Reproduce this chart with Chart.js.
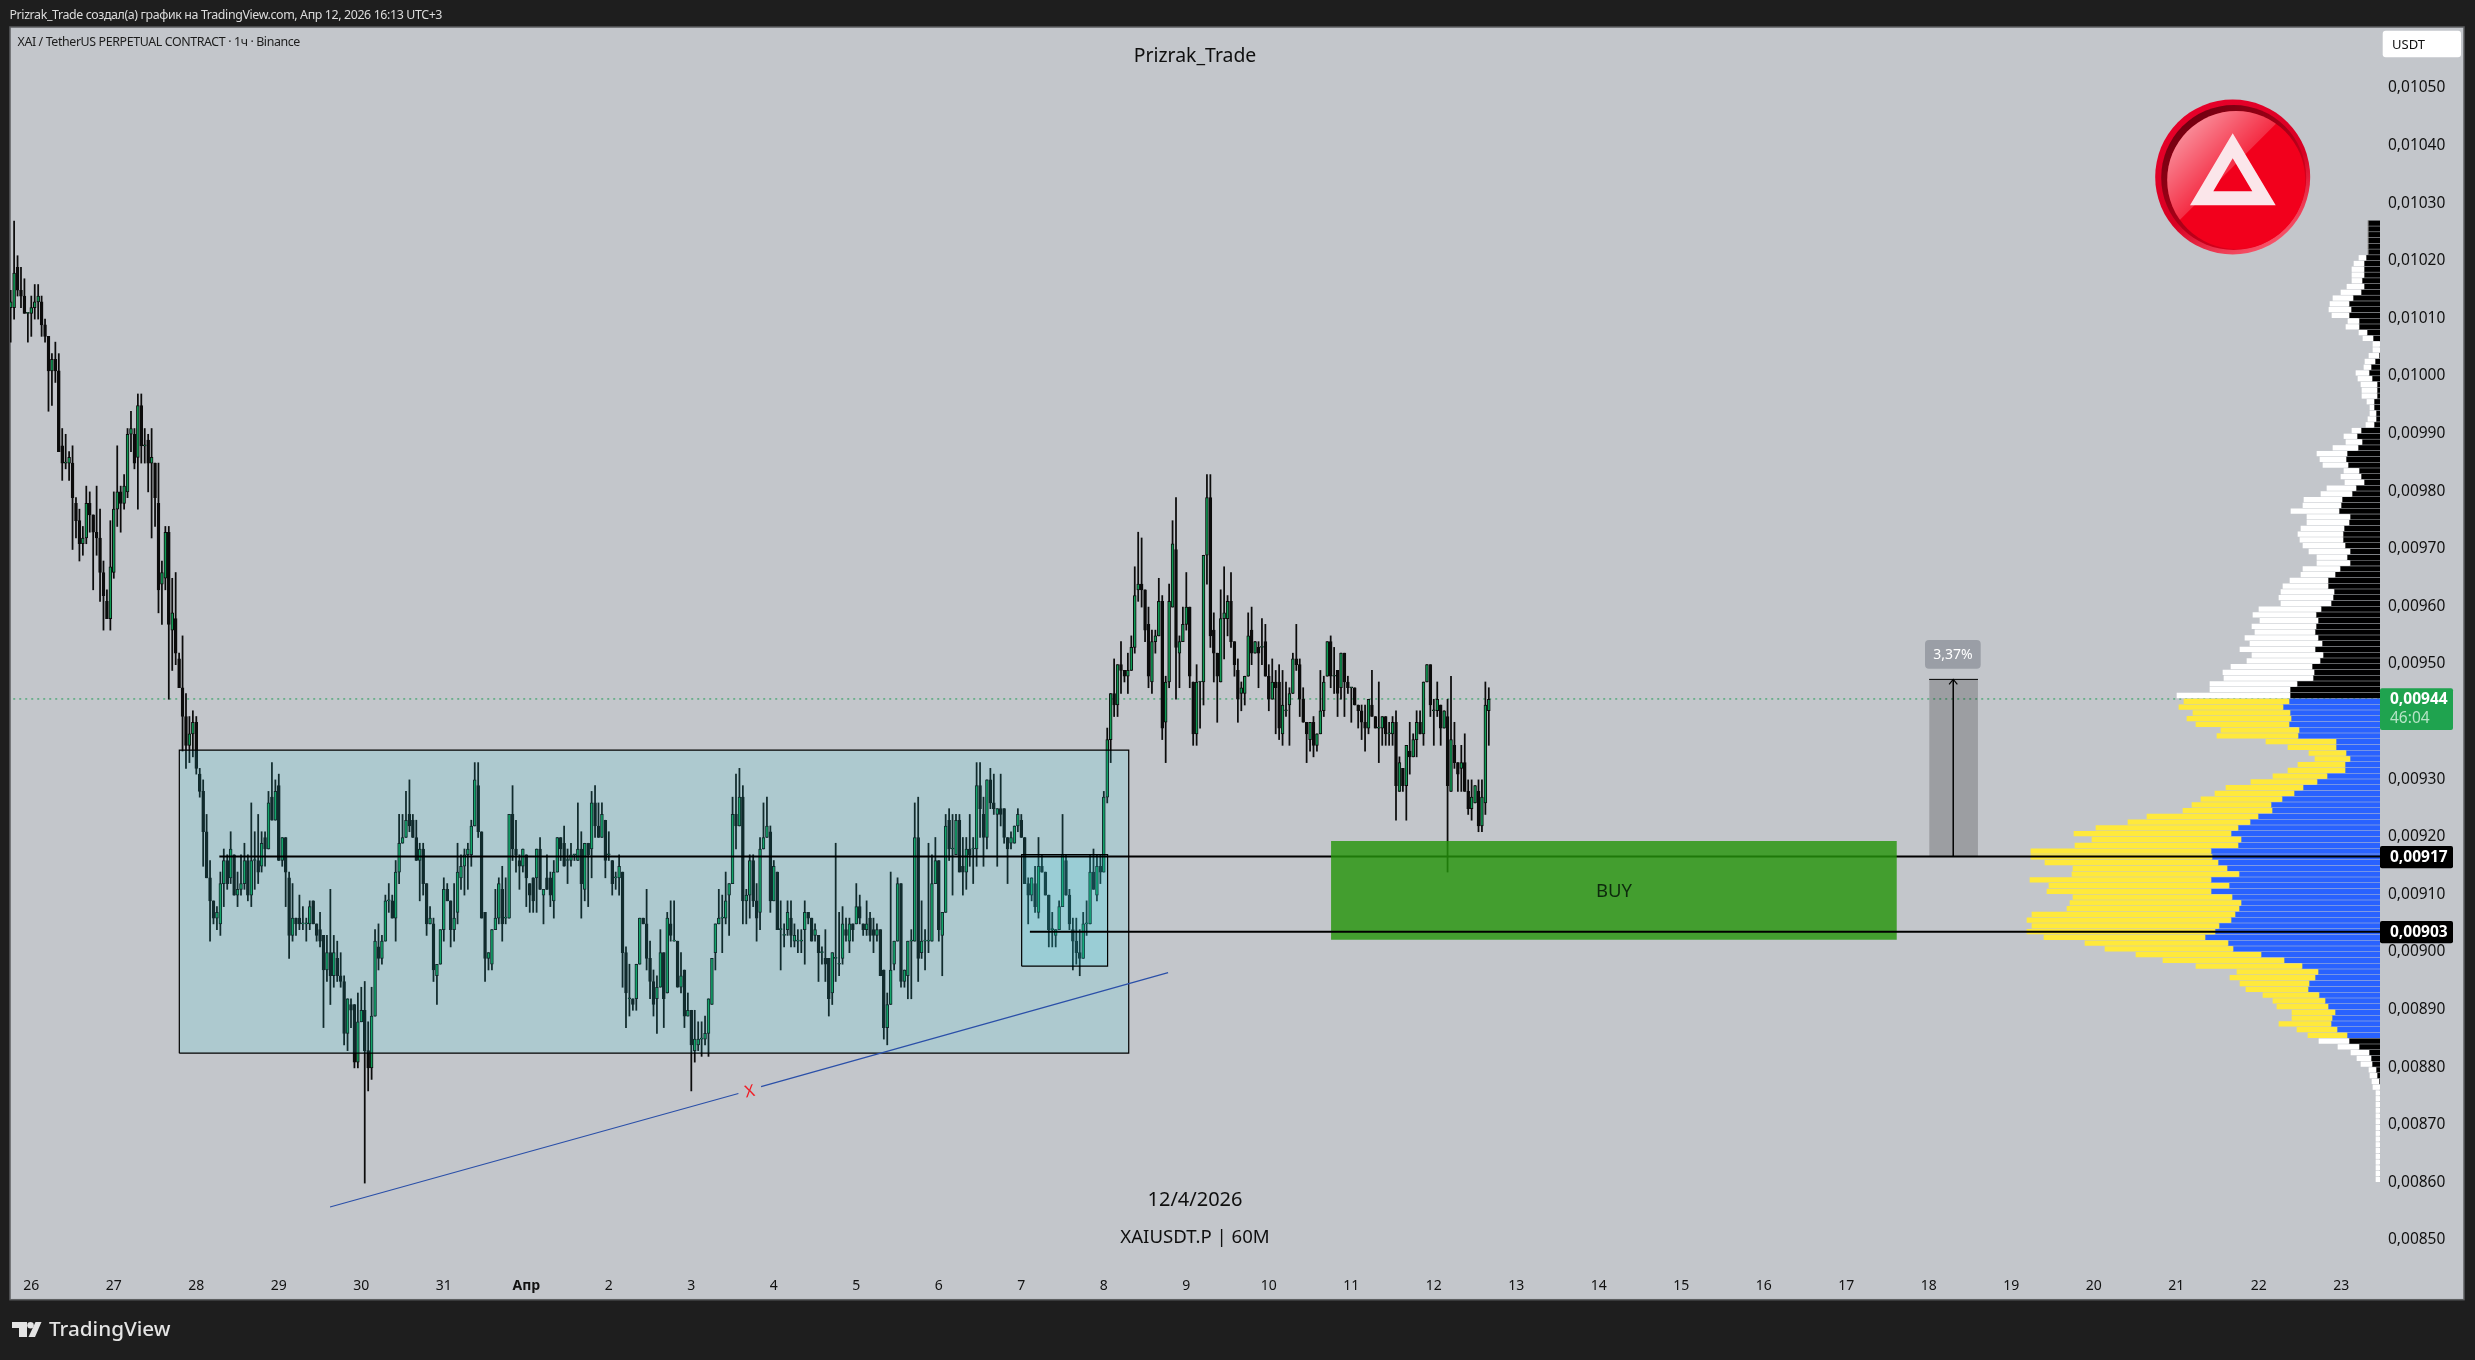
<!DOCTYPE html>
<html>
<head>
<meta charset="utf-8">
<title>XAIUSDT.P 60M</title>
<script src="https://cdn.jsdelivr.net/npm/chart.js@4/dist/chart.umd.js"></script>
<style>
html, body { margin: 0; padding: 0; background: #1e1e1e; }
canvas { display: block; }
</style>
</head>
<body>
<canvas id="chart" width="2475" height="1360"></canvas>
<script>
// all prices are in units of 0.00001, hourly candles, first candle = 25 Mar 18:00
const opens = [
1012,1012,1019,1015,1014,1011,1011,1012,1013,1013,
1009,1007,1001,1003,1001,988,985,985,985,978,
975,971,972,978,976,973,972,966,961,958,
966,977,980,978,980,990,990,986,995,988,
989,985,985,978,964,965,973,956,958,951,
946,941,936,938,940,931,928,921,913,909,
906,905,912,916,913,917,910,911,912,916,
910,916,916,915,920,918,927,923,929,916,
920,913,903,906,906,905,905,905,909,905,
904,903,897,900,896,899,896,895,886,891,
891,881,888,890,883,880,889,901,899,902,
909,909,906,914,919,920,924,923,920,916,
918,912,905,905,896,898,904,911,909,904,
907,913,915,917,917,922,929,921,907,899,
898,904,906,911,906,906,924,918,916,915,
917,912,913,913,918,910,913,913,909,914,
920,919,916,916,917,916,918,911,919,918,
926,922,920,923,917,916,913,913,914,900,
892,892,892,898,906,905,899,895,892,894,
900,893,905,902,902,894,897,889,890,883,
884,885,885,886,891,900,905,906,906,910,
912,924,922,927,909,910,916,909,907,918,
920,921,909,914,904,903,904,906,902,902,
902,904,907,906,903,903,900,899,899,893,
899,898,899,904,902,905,905,908,905,904,
906,904,903,904,897,887,891,898,902,912,
895,896,902,902,920,900,902,902,902,912,
916,903,907,923,918,917,923,915,914,918,
918,918,929,924,920,930,926,924,925,925,
920,919,919,922,923,920,912,910,912,907,
915,914,910,904,903,904,908,916,910,904,
902,900,899,905,905,914,910,915,914,927,
937,945,943,950,949,948,949,953,963,964,
963,957,947,954,955,961,940,947,960,970,
952,954,957,960,947,938,947,947,969,979,
956,952,947,958,958,961,954,949,945,945,
948,956,952,953,953,954,948,944,947,947,
938,942,943,945,951,950,944,940,937,940,
936,938,942,948,954,948,949,946,952,947,
946,946,943,942,940,939,943,941,939,939,
941,938,938,940,928,932,929,935,934,937,
940,938,947,950,942,942,943,939,941,928,
936,933,932,933,928,925,926,928,922,926,942];
const highs = [
1015,1027,1021,1019,1017,1011,1014,1016,1016,1014,
1010,1007,1004,1006,1004,991,990,987,988,979,
977,974,981,980,976,981,977,968,963,975,
980,988,981,983,991,994,991,997,997,991,
990,991,985,985,968,974,974,965,966,952,
955,945,941,942,941,932,930,924,916,909,
908,914,918,917,921,917,914,917,919,917,
926,921,924,921,921,928,933,930,931,920,
920,914,912,906,910,908,906,909,909,905,
907,903,903,911,903,902,900,896,892,892,
891,893,894,895,888,894,904,905,903,910,
912,910,916,924,924,928,930,924,923,919,
919,912,908,906,898,904,913,912,909,912,
919,917,918,919,923,933,933,921,907,900,
904,911,913,915,913,924,929,923,917,918,
917,912,913,918,920,911,917,914,916,920,
920,922,918,919,917,926,921,919,919,928,
929,926,926,923,921,916,914,917,914,901,
898,892,898,906,906,911,902,897,896,904,
900,907,909,909,902,900,897,893,890,890,
888,888,889,892,899,905,911,910,914,912,
927,931,932,929,911,917,917,912,920,926,
927,922,916,914,909,905,909,909,905,904,
904,909,907,906,905,903,901,904,899,900,
919,907,908,906,906,905,912,910,905,909,
907,906,905,904,897,893,914,902,913,912,
897,902,904,926,927,909,904,919,917,920,
916,907,924,925,924,924,924,920,920,924,
920,933,933,927,930,932,931,925,931,925,
920,921,922,925,924,920,913,913,915,920,
917,914,910,907,904,909,924,917,911,906,
906,904,907,909,917,918,917,917,928,939,
945,951,950,954,949,952,955,967,973,972,
963,960,956,956,965,962,948,964,975,979,
955,960,966,960,947,950,947,969,983,983,
959,952,963,967,962,966,954,951,947,948,
959,960,954,954,958,957,950,951,949,950,
949,947,946,952,957,951,946,940,940,941,
938,949,948,954,955,953,949,952,952,948,
946,946,943,943,943,944,949,941,947,941,
941,940,941,942,934,932,936,940,938,942,
942,947,950,950,944,947,943,942,944,948,
940,933,936,938,930,930,929,930,930,947,946];
const lows = [
1006,1010,1014,1012,1011,1006,1007,1010,1010,1007,
1006,994,995,999,987,982,984,982,970,972,
968,969,971,973,963,969,961,956,958,956,
965,974,973,977,979,987,984,977,985,985,
980,972,974,959,957,963,944,949,950,946,
935,932,933,934,931,927,915,913,902,905,
904,903,908,911,912,910,908,910,911,909,
908,911,912,914,915,918,923,923,916,915,
908,899,902,903,904,904,902,904,905,902,
901,887,895,891,894,895,894,884,883,887,
880,880,888,860,876,878,889,897,898,902,
907,906,902,912,919,920,921,920,916,909,
910,903,905,895,891,898,902,909,901,902,
905,911,910,911,915,922,920,906,895,897,
897,904,905,902,905,906,916,914,911,914,
908,907,907,907,911,905,911,908,906,914,
916,915,912,915,916,916,906,909,908,913,
920,920,920,913,916,910,911,910,894,887,
889,890,890,898,905,897,892,889,886,894,
887,893,902,902,894,893,887,889,876,881,
883,882,884,882,891,897,905,900,905,903,
912,918,922,905,905,906,908,902,904,918,
920,907,909,904,897,901,903,901,901,900,
900,898,905,902,902,895,898,895,889,891,
895,896,898,902,900,902,905,905,903,903,
902,900,902,896,885,884,891,897,902,894,
894,892,892,902,895,899,897,900,902,912,
902,896,907,916,910,917,914,910,911,915,
912,915,920,915,918,925,924,915,922,919,
912,918,919,921,920,912,905,909,907,906,
914,910,901,901,901,904,908,910,904,897,
898,896,899,903,905,911,909,912,914,926,
933,941,941,945,947,945,949,952,961,960,
954,946,945,952,955,937,933,946,960,944,
946,954,956,946,936,936,939,943,964,953,
947,940,947,951,955,953,948,940,942,943,
948,950,952,946,950,948,942,944,938,937,
936,941,936,945,949,941,940,933,935,934,
935,938,941,948,946,945,941,944,941,945,
940,943,939,937,935,938,941,939,933,936,
936,936,936,923,928,928,923,931,934,934,
938,936,947,941,936,941,936,939,914,928,
932,928,928,928,924,923,926,921,921,924,936];
const closes = [
1013,1018,1015,1014,1011,1011,1012,1013,1014,1009,
1007,1001,1003,1001,987,985,985,986,979,975,
971,972,978,976,973,972,966,962,958,967,
977,980,978,981,990,991,985,995,988,988,
985,986,979,963,966,973,957,959,952,946,
941,936,938,940,932,928,921,913,909,906,
907,912,916,912,918,910,911,912,916,910,
916,916,914,919,918,926,923,928,916,920,
914,903,906,905,905,905,905,908,905,903,
902,897,900,896,900,896,895,886,892,890,
881,888,890,883,880,889,902,899,902,909,
909,906,914,919,920,923,922,920,916,918,
912,905,906,897,898,904,911,909,904,906,
914,915,917,918,922,930,921,906,899,900,
904,906,912,905,906,924,918,917,915,918,
913,910,909,918,911,911,911,910,914,920,
918,915,916,917,917,918,912,919,917,926,
922,920,924,916,917,912,913,915,900,893,
892,891,898,906,905,899,895,891,894,900,
892,906,903,902,894,896,889,890,884,885,
885,885,886,892,899,905,906,906,909,912,
924,922,927,909,910,916,909,906,918,920,
922,909,915,904,904,903,907,903,903,902,
902,907,906,902,904,900,900,898,892,900,
899,898,905,903,905,904,908,906,904,905,
903,903,904,896,887,891,897,902,912,895,
897,902,902,920,899,902,902,902,912,916,
904,907,922,918,918,923,914,914,918,917,
918,929,925,920,930,926,925,925,924,920,
918,920,922,924,920,912,910,913,908,915,
914,910,904,904,904,908,917,910,905,902,
900,899,905,905,914,911,915,914,927,937,
945,943,950,949,948,949,953,962,964,963,
956,948,954,955,961,939,947,961,971,953,
954,957,960,948,938,947,947,969,979,955,
952,948,958,959,961,954,950,944,946,948,
955,952,954,952,953,948,944,947,946,939,
943,942,945,951,950,944,940,938,940,936,
938,942,947,954,948,948,945,952,947,946,
946,943,942,940,939,944,941,939,939,941,
938,938,940,929,933,929,936,934,937,940,
938,947,950,943,942,944,939,942,929,937,
933,931,933,928,925,927,929,922,927,943,944];

// volume profile, top row first
const profileTopPrice = 1026.65;
const profileInner = [
12,12,12,12,12,12,14,16,16,16,18,16,19,27,31,29,31,21,21,13,7,
0,0,1,5,9,11,8,3,3,3,6,6,4,4,6,19,23,18,22,33,34,32,21,19,16,24,28,38,39,41,
30,31,36,37,37,35,30,33,30,40,45,52,52,46,47,49,59,64,62,64,65,62,58,65,57,60,68,66,67,
83,90,90,91,97,90,89,91,81,82,44,44,34,30,35,35,53,63,77,86,98,109,108,122,130,142,149,139,142,
169,168,162,153,141,169,151,169,148,139,141,145,149,161,165,175,152,147,119,96,
78,62,65,71,72,61,55,52,45,48,49,43,33,31,21,11,9,8,4,3,1,0,
0,0,0,0,0,0,0,0,0,0,0,0,0,0,0,0];
const profileOuter = [
0,0,0,0,0,0,7,10,12,12,10,17,20,20,19,22,17,11,13,8,10,
7,7,10,10,7,13,14,16,15,15,7,4,6,8,8,9,13,16,25,30,26,25,15,20,19,29,31,38,38,48,
43,42,43,45,43,42,41,30,33,37,34,38,45,53,54,50,62,63,58,64,60,73,72,75,71,73,81,91,89,
87,80,113,105,104,97,104,93,78,81,70,48,37,35,47,57,54,66,77,79,81,79,89,111,122,142,157,149,163,
180,181,173,154,167,181,180,164,159,171,172,203,204,187,188,161,143,128,125,121,
106,81,85,69,62,56,52,51,43,40,52,40,39,30,21,18,14,11,7,7,7,7,
4,4,4,4,4,4,4,4,4,4,4,4,4,4,4,4];
const valueAreaRows = [83, 141];

// axes
const dayLabels = ['26','27','28','29','30','31','Апр','2','3','4','5','6','7','8','9','10','11','12','13','14','15','16','17','18','19','20','21','22','23'];
const dayCandles = dayLabels.map((d, i) => 6 + i * 24);
const priceTicks = [1050,1040,1030,1020,1010,1000,990,980,970,960,950,930,920,910,900,890,880,870,860,850];

// drawings on the chart
const lastPrice = 944.05;
const levelHigh = 916.71;
const levelLow = 903.65;
const rangeBox = [49.06, 325.25, 882.55, 935.15];
const innerBox = [294.1, 319.1, 897.65, 917.02];
const buyBox = [384.1, 548.7, 902.25, 919.39];
const measureBox = [558.1, 572.3, levelHigh, 947.45];
const trendLine = [[92.9,855.85],[211.7,875.55],[211.7,null],[218.3,876.75],[336.7,896.55]];

const fmtPrice = v => (v / 100000).toFixed(5).replace('.', ',');
const font = '"Noto Sans"';

const candleDots = opens.map((o, i) => ({x: i, y: [Math.min(o, closes[i]), Math.max(o, closes[i])]}));
const wickDots = opens.map((o, i) => ({x: i, y: [lows[i], highs[i]]}));
const bodyColors = opens.map((o, i) => closes[i] >= o ? '#0f9a54' : '#0c0c0c');

function lineSet(points, color, width, order, extra) {
	return Object.assign({
		type: 'line',
		data: points.map(p => ({x: p[0], y: p[1]})),
		borderColor: color,
		borderWidth: width,
		pointRadius: 0,
		fill: false,
		tension: 0,
		order: order
	}, extra || {});
}

// a filled box is one open path filled down to its own bottom edge
function boxFill(b, color, order) {
	return lineSet([[b[0],b[2]],[b[0],b[3]],[b[1],b[3]],[b[1],b[2]]], 'rgba(0,0,0,0)', 0, order,
		{fill: {target: {value: b[2]}}, backgroundColor: color});
}
function boxEdge(b, color, width, order) {
	return lineSet([[b[0],b[2]],[b[0],b[3]],[b[1],b[3]],[b[1],b[2]],[b[0],b[2]]], color, width, order);
}

const rowPrice = n => profileTopPrice - n;
const inValueArea = n => n >= valueAreaRows[0] && n <= valueAreaRows[1];

const datasets = [
	lineSet([[-1,lastPrice],[690,lastPrice]], '#1f9d55', 1, 95, {borderDash: [2, 4]}),
	{
		type: 'bar', indexAxis: 'y', xAxisID: 'xVol', grouped: false, order: 86, barThickness: 4.6,
		data: profileInner.map((v, n) => ({y: rowPrice(n), x: [0, v]})),
		backgroundColor: profileInner.map((v, n) => inValueArea(n) ? '#2962ff' : '#000000')
	},
	{
		type: 'bar', indexAxis: 'y', xAxisID: 'xVol', grouped: false, order: 85, barThickness: 4.6,
		data: profileOuter.map((v, n) => ({y: rowPrice(n), x: [profileInner[n], profileInner[n] + v]})),
		backgroundColor: profileOuter.map((v, n) => inValueArea(n) ? '#ffe93b' : '#ffffff')
	},
	{
		type: 'bar', grouped: false, order: 80, barThickness: 1.1,
		data: wickDots, backgroundColor: '#0c0c0c'
	},
	{
		type: 'bar', grouped: false, order: 79, barThickness: 2.9, minBarLength: 1,
		data: candleDots, backgroundColor: bodyColors, borderColor: '#0c0c0c', borderWidth: 1, borderSkipped: false
	},
	boxFill(rangeBox, 'rgba(48,220,236,0.15)', 70),
	boxFill(innerBox, 'rgba(50,228,250,0.15)', 69),
	boxEdge(rangeBox, '#000000', 1.2, 68),
	boxEdge(innerBox, '#000000', 1.2, 67),
	lineSet([[60.7,levelHigh],[690,levelHigh]], '#000000', 2, 60),
	boxFill(measureBox, 'rgba(0,0,0,0.2)', 56),
	lineSet([[measureBox[0],measureBox[3]],[measureBox[1],measureBox[3]]], '#000000', 1, 55),
	lineSet([[565.1,levelHigh],[565.1,measureBox[3]]], '#000000', 1.5, 54),
	lineSet([[563.9,946.6],[565.1,measureBox[3]],[566.3,946.6]], '#000000', 1.2, 53),
	boxFill(buyBox, 'rgba(37,149,11,0.81)', 50),
	lineSet(trendLine, '#2a4fa8', 1.2, 45),
	lineSet([[296.5,levelLow],[690,levelLow]], '#000000', 2, 40)
];

function text(ctx, str, x, y, f, color, align, spacing) {
	ctx.font = f;
	ctx.fillStyle = color;
	ctx.textAlign = align || 'left';
	ctx.textBaseline = 'middle';
	ctx.letterSpacing = spacing || '0px';
	ctx.fillText(str, x, y + 1);
	ctx.letterSpacing = '0px';
}

function roundBox(ctx, x, y, w, h, r, color) {
	ctx.fillStyle = color;
	ctx.beginPath();
	ctx.roundRect(x, y, w, h, r);
	ctx.fill();
}

function drawBadge(ctx) {
	const cx = 2232.7, cy = 177;
	let g = ctx.createLinearGradient(cx - 50, cy - 70, cx + 30, cy + 75);
	g.addColorStop(0, '#e8002a');
	g.addColorStop(0.6, '#d80022');
	g.addColorStop(1, '#f8566b');
	ctx.fillStyle = g;
	ctx.beginPath(); ctx.arc(cx, cy, 77.5, 0, Math.PI * 2); ctx.fill();
	g = ctx.createLinearGradient(cx - 50, cy - 60, cx + 50, cy + 60);
	g.addColorStop(0, '#6e0010');
	g.addColorStop(0.55, '#b00018');
	g.addColorStop(1, '#f4001f');
	ctx.fillStyle = g;
	ctx.beginPath(); ctx.arc(cx + 1, cy + 0.5, 72.5, 0, Math.PI * 2); ctx.fill();
	ctx.save();
	ctx.beginPath(); ctx.arc(cx + 3.5, cy + 3, 69, 0, Math.PI * 2); ctx.clip();
	ctx.fillStyle = '#f2001c';
	ctx.fillRect(cx - 80, cy - 80, 160, 160);
	g = ctx.createLinearGradient(cx - 55, cy - 55, cx + 15, cy + 15);
	g.addColorStop(0, 'rgba(255,255,255,0.62)');
	g.addColorStop(1, 'rgba(255,255,255,0)');
	ctx.fillStyle = g;
	ctx.beginPath();
	ctx.moveTo(cx + 50, cy - 60);
	ctx.lineTo(cx - 80, cy + 70);
	ctx.lineTo(cx - 80, cy - 80);
	ctx.lineTo(cx + 50, cy - 80);
	ctx.fill();
	ctx.restore();
	ctx.fillStyle = '#fbe6ea';
	ctx.beginPath();
	ctx.moveTo(cx, 133.3); ctx.lineTo(cx - 42.7, 205.3); ctx.lineTo(cx + 43, 205.3); ctx.closePath();
	ctx.moveTo(cx, 158.3); ctx.lineTo(cx + 19.6, 191.3); ctx.lineTo(cx - 19.4, 191.3); ctx.closePath();
	ctx.fill('evenodd');
}

function drawLogo(ctx) {
	ctx.fillStyle = '#e4e4e4';
	ctx.fillRect(12, 1322, 15, 6);
	ctx.fillRect(19, 1322, 8, 15);
	ctx.beginPath(); ctx.arc(30.5, 1325.3, 3.3, 0, Math.PI * 2); ctx.fill();
	ctx.beginPath();
	ctx.moveTo(35.5, 1322); ctx.lineTo(41.5, 1322); ctx.lineTo(35, 1337); ctx.lineTo(28.5, 1337);
	ctx.closePath(); ctx.fill();
}

const framePlugin = {
	id: 'frame',
	beforeDraw(chart) {
		const ctx = chart.ctx;
		ctx.save();
		ctx.fillStyle = '#1e1e1e';
		ctx.fillRect(0, 0, 2475, 1360);
		ctx.fillStyle = '#c3c6cb';
		ctx.fillRect(10, 27, 2454, 1272.7);
		ctx.strokeStyle = '#5c5e60';
		ctx.lineWidth = 1.5;
		ctx.strokeRect(10, 27, 2454, 1272.7);
		ctx.restore();
	},
	afterDraw(chart) {
		const ctx = chart.ctx;
		const y = chart.scales.y, x = chart.scales.x;
		ctx.save();
		text(ctx, 'Prizrak_Trade создал(а) график на TradingView.com, Апр 12, 2026 16:13 UTC+3', 9.5, 14.5, '12.4px ' + font, '#dcdcdc', 'left', '-0.38px');
		text(ctx, 'XAI / TetherUS PERPETUAL CONTRACT · 1ч · Binance', 17.5, 41, '12.4px ' + font, '#1c1c1c', 'left', '-0.38px');
		text(ctx, 'Prizrak_Trade', 1195, 55, '19.4px ' + font, '#0f0f0f', 'center');
		text(ctx, '12/4/2026', 1195, 1199, '20px ' + font, '#0f0f0f', 'center');
		text(ctx, 'XAIUSDT.P | 60M', 1195, 1237, '18.6px ' + font, '#0f0f0f', 'center');
		text(ctx, 'BUY', x.getPixelForValue((buyBox[0] + buyBox[1]) / 2), y.getPixelForValue((buyBox[2] + buyBox[3]) / 2), '18.5px ' + font, '#0d2a0d', 'center');

		ctx.save();
		ctx.translate(749.7, 1092);
		ctx.rotate(-0.2);
		text(ctx, 'X', 0, -1, '16.5px ' + font, '#f01c25', 'center');
		ctx.restore();

		// labels on the price scale
		roundBox(ctx, 2382.7, 30.7, 78.3, 26.6, 3, '#ffffff');
		text(ctx, 'USDT', 2392, 44.5, '13px ' + font, '#111111');
		roundBox(ctx, 2380, 688.3, 73, 41.7, 2, '#1fa34f');
		text(ctx, '0,00944', 2390, 699, 'bold 15.5px ' + font, '#ffffff');
		text(ctx, '46:04', 2390, 717.7, '15.5px ' + font, '#b6e4c6');
		roundBox(ctx, 2380, 846, 73, 22.3, 2, '#000000');
		text(ctx, '0,00917', 2390, 856.7, 'bold 15.5px ' + font, '#ffffff');
		roundBox(ctx, 2380, 921, 73, 22.3, 2, '#000000');
		text(ctx, '0,00903', 2390, 931.7, 'bold 15.5px ' + font, '#ffffff');

		roundBox(ctx, 1925, 640, 55.7, 28.7, 4, '#9a9ea6');
		text(ctx, '3,37%', 1953, 654.5, '14px ' + font, '#ffffff', 'center');

		drawBadge(ctx);
		drawLogo(ctx);
		text(ctx, 'TradingView', 49, 1329.5, '500 20.7px ' + font, '#e4e4e4');
		ctx.restore();
	}
};

new Chart(document.getElementById('chart'), {
	type: 'bar',
	data: {datasets: datasets},
	plugins: [framePlugin],
	options: {
		responsive: false,
		devicePixelRatio: 1,
		animation: false,
		events: [],
		layout: {padding: {left: 10, right: 10, top: 27, bottom: 61}},
		plugins: {legend: {display: false}, tooltip: {enabled: false}, title: {display: false}},
		scales: {
			x: {
				type: 'linear', offset: false, bounds: 'data', min: -0.195, max: 689.25,
				grid: {display: false}, border: {display: false},
				afterBuildTicks: s => { s.ticks = dayCandles.map(v => ({value: v})); },
				afterFit: s => { s.height = 37; },
				ticks: {
					autoSkip: false, maxRotation: 0, padding: 7.5, color: '#111111',
					font: c => ({family: 'Noto Sans', size: 14, weight: dayLabels[c.index] === 'Апр' ? 'bold' : 'normal'}),
					callback: (v, i) => dayLabels[i]
				}
			},
			y: {
				type: 'linear', position: 'right', offset: false, bounds: 'data', min: 846.3, max: 1060.71,
				grid: {display: false}, border: {display: false},
				afterBuildTicks: s => { s.ticks = priceTicks.map(v => ({value: v})); },
				afterFit: s => { s.width = 85; },
				ticks: {
					autoSkip: false, padding: 0, crossAlign: 'center', labelOffset: -0.8, color: '#111111',
					font: {family: 'Noto Sans', size: 15.5},
					callback: v => fmtPrice(v)
				}
			},
			xVol: {
				type: 'linear', display: false, offset: false, bounds: 'data', reverse: true, min: 0, max: 2370
			}
		}
	}
});
</script>
</body>
</html>
